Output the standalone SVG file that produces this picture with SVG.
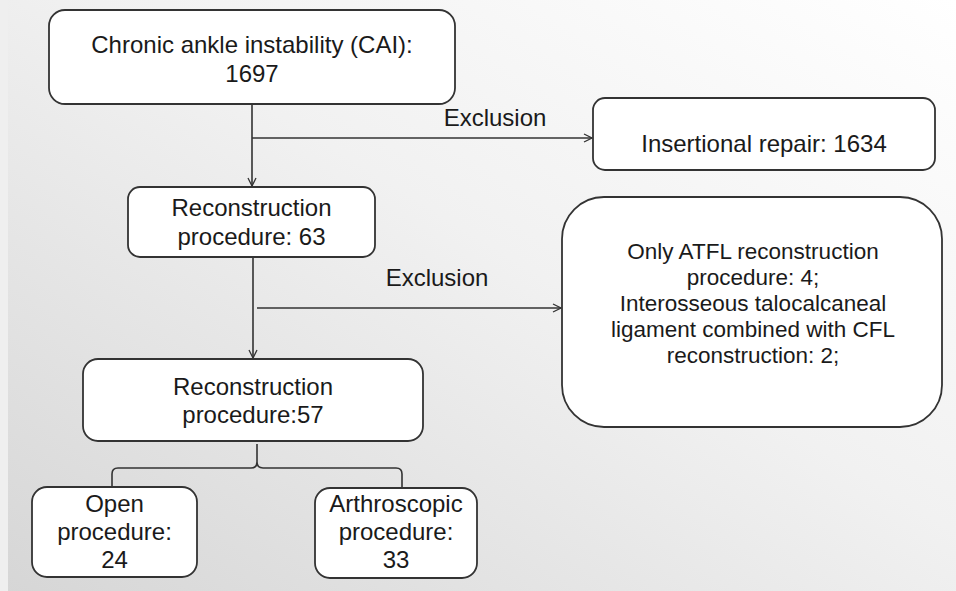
<svg xmlns="http://www.w3.org/2000/svg" width="956" height="591" viewBox="0 0 956 591">
<defs>
<linearGradient id="bg" x1="1" y1="0" x2="0" y2="1">
<stop offset="0" stop-color="#ffffff"/>
<stop offset="0.45" stop-color="#f1f1f1"/>
<stop offset="1" stop-color="#d6d6d6"/>
</linearGradient>
<marker id="arr" viewBox="0 0 10 10" refX="9" refY="5" markerWidth="10" markerHeight="10" markerUnits="userSpaceOnUse" orient="auto">
<path d="M1,1 L9,5 L1,9" fill="none" stroke="#333" stroke-width="1.3"/>
</marker>
<style>
.box{fill:#fff;stroke:#333;stroke-width:1.8}
.t{font-family:"Liberation Sans",Arial,sans-serif;font-size:24px;fill:#1a1a1a;text-anchor:middle}
.s{font-size:22.5px}
.c{fill:none;stroke:#333;stroke-width:1.6}
</style>
</defs>
<rect width="956" height="591" fill="url(#bg)"/>
<rect width="8" height="591" fill="#efefef"/>

<g id="connectors">
<line class="c" x1="252" y1="104" x2="252" y2="186" marker-end="url(#arr)"/>
<line class="c" x1="252" y1="138" x2="592" y2="138" marker-end="url(#arr)"/>
<line class="c" x1="253" y1="257" x2="253" y2="358" marker-end="url(#arr)"/>
<line class="c" x1="257" y1="308" x2="561" y2="308" marker-end="url(#arr)"/>
<path class="c" d="M112,487 L112,474 Q112,468 118,468 L251,468 Q257,468 257,462 L257,444 M257,462 Q257,468 263,468 L396,468 Q402,468 402,474 L402,487"/>
</g>

<g id="cai">
<rect class="box" x="49" y="10" width="406" height="94" rx="16"/>
<text class="t" x="252" y="53">Chronic ankle instability (CAI):</text>
<text class="t" x="252" y="82">1697</text>
</g>

<g id="label-exclusion-1">
<text class="t" x="495" y="126">Exclusion</text>
</g>

<g id="insertional">
<rect class="box" x="593" y="98" width="342" height="72" rx="12"/>
<text class="t" x="764" y="152">Insertional repair: 1634</text>
</g>

<g id="recon63">
<rect class="box" x="128" y="187" width="247" height="70" rx="12"/>
<text class="t" x="251.5" y="216">Reconstruction</text>
<text class="t" x="251.5" y="245">procedure: 63</text>
</g>

<g id="label-exclusion-2">
<text class="t" x="437" y="286">Exclusion</text>
</g>

<g id="excluded">
<rect class="box" x="562" y="197" width="380" height="230" rx="42"/>
<text class="t s" x="753" y="259">Only ATFL reconstruction</text>
<text class="t s" x="753" y="285">procedure: 4;</text>
<text class="t s" x="753" y="311">Interosseous talocalcaneal</text>
<text class="t s" x="753" y="337">ligament combined with CFL</text>
<text class="t s" x="753" y="363">reconstruction: 2;</text>
</g>

<g id="recon57">
<rect class="box" x="83" y="359" width="340" height="82" rx="15"/>
<text class="t" x="253" y="395">Reconstruction</text>
<text class="t" x="253" y="423">procedure:57</text>
</g>

<g id="open">
<rect class="box" x="32" y="487" width="165" height="90" rx="15"/>
<text class="t" x="114.5" y="512">Open</text>
<text class="t" x="114.5" y="540">procedure:</text>
<text class="t" x="114.5" y="568">24</text>
</g>

<g id="arthroscopic">
<rect class="box" x="315" y="488" width="162" height="90" rx="15"/>
<text class="t" x="396" y="512">Arthroscopic</text>
<text class="t" x="396" y="540">procedure:</text>
<text class="t" x="396" y="568">33</text>
</g>
</svg>
